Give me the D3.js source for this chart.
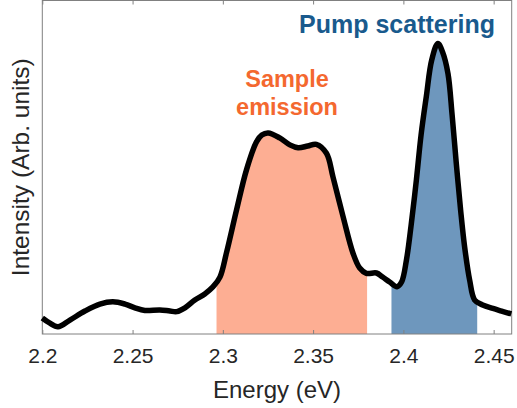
<!DOCTYPE html>
<html><head><meta charset="utf-8">
<script src="https://cdn.jsdelivr.net/npm/d3@7"></script>
<style>
html,body{margin:0;padding:0;background:#fff;}
svg{display:block;font-family:"Liberation Sans",Arial,Helvetica,sans-serif;}
</style></head>
<body><div id="chart"></div>
<script>
const energy = [2.200,2.204,2.2087,2.2153,2.2236,2.2319,2.2391,2.2458,2.2513,2.2568,2.2651,2.2707,2.2745,2.279,2.2845,2.29,2.2945,2.2984,2.302,2.3076,2.3131,2.3187,2.3216,2.3251,2.3315,2.3371,2.3417,2.347,2.3518,2.3574,2.361,2.3666,2.3721,2.3758,2.3795,2.3851,2.3885,2.3924,2.3965,2.399,2.4017,2.4043,2.4072,2.4098,2.4127,2.4157,2.4191,2.4217,2.4247,2.427,2.4293,2.4317,2.4339,2.4367,2.4395,2.4439,2.4496,2.4544,2.4598];
const intensity = [0.055,0.038,0.025,0.048,0.079,0.103,0.111,0.103,0.090,0.081,0.083,0.079,0.077,0.090,0.117,0.138,0.162,0.196,0.279,0.427,0.565,0.662,0.685,0.692,0.675,0.651,0.641,0.647,0.653,0.622,0.541,0.404,0.278,0.227,0.209,0.210,0.196,0.179,0.163,0.179,0.255,0.375,0.530,0.685,0.817,0.943,1.000,0.971,0.897,0.754,0.588,0.427,0.301,0.186,0.117,0.100,0.088,0.079,0.069];
const xTicks = [2.2,2.25,2.3,2.35,2.4,2.45];
const bandNames = ["Sample emission","Pump scattering"];
const bandStart = [2.2965,2.3934];
const bandEnd = [2.3799,2.4409];
const bandColors = ["#fdae93","#6e97bd"];
const labelColors = ["#f4682f","#195a8d"];

const W=517,H=408;
const m={left:42.3,right:5.3,top:0.5,bottom:74};
const svg=d3.select("#chart").append("svg").attr("width",W).attr("height",H);
const x=d3.scaleLinear().domain([2.2,2.46]).range([m.left,W-m.right]);
const y=d3.scaleLinear().domain([0,1.148]).range([H-m.bottom,m.top]);
const data=energy.map((e,i)=>({e,v:intensity[i]}));
const curve=d3.curveCatmullRom.alpha(0.5);

const defs=svg.append("defs");
bandStart.forEach((s,i)=>{
  defs.append("clipPath").attr("id","band"+i).append("rect")
    .attr("x",x(s)).attr("y",y.range()[1]).attr("width",x(bandEnd[i])-x(s)).attr("height",y.range()[0]-y.range()[1]);
});
const area=d3.area().x(d=>x(d.e)).y0(y(0)).y1(d=>y(d.v)).curve(curve);
bandStart.forEach((s,i)=>{
  svg.append("path").datum(data).attr("d",area).attr("fill",bandColors[i]).attr("clip-path","url(#band"+i+")");
});

// frame
const fc="#808080";
svg.append("rect").attr("x",x.range()[0]).attr("y",y.range()[1]).attr("width",x.range()[1]-x.range()[0]).attr("height",y.range()[0]-y.range()[1]).attr("fill","none").attr("stroke",fc).attr("stroke-width",1);
const xb=svg.append("g").attr("transform",`translate(0,${y.range()[0]})`)
  .call(d3.axisBottom(x).tickValues(xTicks).tickSizeInner(-4).tickSizeOuter(0).tickPadding(14).tickFormat(d3.format("")));
xb.select(".domain").remove();
xb.selectAll("line").attr("stroke",fc);
xb.selectAll("text").attr("font-size",21).attr("fill","#262626").attr("font-family","Liberation Sans, Arial, sans-serif");
const xt=svg.append("g").attr("transform",`translate(0,${y.range()[1]})`)
  .call(d3.axisTop(x).tickValues(xTicks).tickSizeInner(-4).tickSizeOuter(0).tickFormat(""));
xt.select(".domain").remove();
xt.selectAll("line").attr("stroke",fc);

// line
const line=d3.line().x(d=>x(d.e)).y(d=>y(d.v)).curve(curve);
svg.append("path").datum(data).attr("d",line)
  .attr("fill","none").attr("stroke","#000").attr("stroke-width",5.5).attr("stroke-linejoin","round").attr("stroke-linecap","butt");

// axis labels
svg.append("text").attr("x",(x.range()[0]+x.range()[1])/2).attr("y",398).attr("text-anchor","middle")
  .attr("font-size",24).attr("fill","#262626").text("Energy (eV)");
svg.append("text").attr("transform",`translate(29,${(y.range()[0]+y.range()[1])/2}) rotate(-90)`).attr("text-anchor","middle")
  .attr("font-size",24.5).attr("fill","#262626").text("Intensity (Arb. units)");

// annotations
const t1=svg.append("text").attr("text-anchor","middle").attr("font-size",23.5).attr("font-weight","bold").attr("fill",labelColors[0]);
t1.append("tspan").attr("x",287).attr("y",87).text("Sample");
t1.append("tspan").attr("x",287).attr("y",115).text("emission");
svg.append("text").attr("x",397).attr("y",33).attr("text-anchor","middle").attr("font-size",25).attr("font-weight","bold").attr("fill",labelColors[1]).text("Pump scattering");
</script></body></html>
